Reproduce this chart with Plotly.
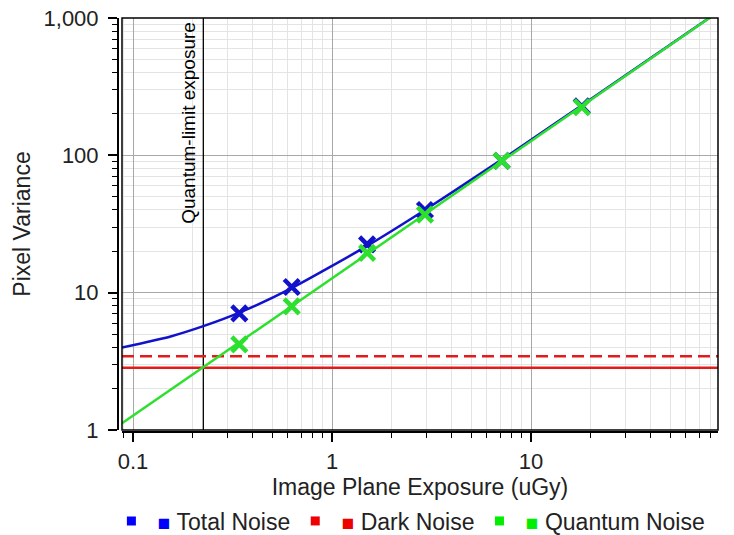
import math
import plotly.graph_objects as go

# Exposure (uGy) and pixel variance readings
marker_exposure = [0.342, 0.627, 1.5, 2.93, 7.12, 18.0]
total_marker_var = [7.07, 11.0, 22.5, 40.0, 91.0, 227.0]
quantum_marker_var = [4.2, 7.95, 19.5, 37.0, 91.0, 224.0]

total_line_exposure = [0.088, 0.153, 0.2255, 0.342, 0.627, 1.5, 2.93, 7.12, 18.0, 87.0]
total_line_var = [3.99, 4.78, 5.7, 7.15, 10.8, 21.9, 40.0, 93.0, 231.0, 1108.0]

quantum_line_exposure = [0.088, 0.342, 0.627, 1.5, 2.93, 7.12, 18.0, 87.0]
quantum_line_var = [1.12, 4.35, 7.96, 19.0, 37.2, 90.4, 229.0, 1105.0]

dark_exposure = [0.088, 87.0]
dark_solid_var = [2.84, 2.84]
dark_dashed_var = [3.45, 3.45]

quantum_limit_exposure = 0.2255

x_tickvals = [0.1, 1, 10]
x_ticktext = ["0.1", "1", "10"]
x_minorvals = [0.09, 0.2, 0.3, 0.4, 0.5, 0.6, 0.7, 0.8, 0.9,
               2, 3, 4, 5, 6, 7, 8, 9, 20, 30, 40, 50, 60, 70, 80]
y_tickvals = [1, 10, 100, 1000]
y_ticktext = ["1", "10", "100", "1,000"]
y_minorvals = [2, 3, 4, 5, 6, 7, 8, 9, 20, 30, 40, 50, 60, 70, 80, 90,
               200, 300, 400, 500, 600, 700, 800, 900]

BLUE = "#1212cc"
RED = "#e21b1b"
GREEN = "#2ee02e"
FONT = "Liberation Sans, Arial, sans-serif"

fig = go.Figure()

# quantum-limit marker line
fig.add_trace(go.Scatter(x=[quantum_limit_exposure, quantum_limit_exposure], y=[1, 1000],
                         mode="lines", line=dict(color="black", width=1.3),
                         showlegend=False, hoverinfo="skip"))

# dark noise levels
fig.add_trace(go.Scatter(x=dark_exposure, y=dark_solid_var, mode="lines",
                         line=dict(color=RED, width=2.5), showlegend=False))
fig.add_trace(go.Scatter(x=dark_exposure, y=dark_dashed_var, mode="lines",
                         line=dict(color=RED, width=2.5, dash="12px,6px"), showlegend=False))

# total noise
fig.add_trace(go.Scatter(x=total_line_exposure, y=total_line_var, mode="lines",
                         line=dict(color=BLUE, width=2.5, shape="spline", smoothing=0.6),
                         showlegend=False))
fig.add_trace(go.Scatter(x=marker_exposure, y=total_marker_var, mode="markers",
                         marker=dict(symbol="x-thin", size=15, line=dict(color=BLUE, width=4.5)),
                         showlegend=False))

# quantum noise
fig.add_trace(go.Scatter(x=quantum_line_exposure, y=quantum_line_var, mode="lines",
                         line=dict(color=GREEN, width=2.5), showlegend=False))
fig.add_trace(go.Scatter(x=marker_exposure, y=quantum_marker_var, mode="markers",
                         marker=dict(symbol="x-thin", size=15, line=dict(color=GREEN, width=4.5)),
                         showlegend=False))

# legend entries
for name, color in [("Total Noise", "#0000ff"), ("Dark Noise", "#ee0000"), ("Quantum Noise", "#00ee00")]:
    fig.add_trace(go.Scatter(
        x=[None], y=[None], mode="markers",
        marker=dict(symbol="square", size=9, color=color),
        name=f'&nbsp;<span style="color:{color};font-size:21px">■</span> {name}'))

fig.add_annotation(text="Quantum-limit exposure", textangle=-90,
                   x=math.log10(quantum_limit_exposure), xref="x",
                   y=1, yref="y domain", xanchor="right", yanchor="top",
                   xshift=-3, yshift=-2, showarrow=False,
                   font=dict(family=FONT, size=19, color="black"))

fig.add_shape(type="rect", xref="x domain", yref="y domain", x0=0, x1=1, y0=0, y1=1,
              line=dict(color="black", width=1.5), layer="above")

axis_common = dict(
    type="log", showline=True, linecolor="black", linewidth=2,
    ticks="outside", ticklen=9, tickwidth=1.5, tickcolor="black",
    showgrid=True, gridcolor="#a8a8a8", gridwidth=1, zeroline=False,
    tickfont=dict(family=FONT, size=22, color="#222"),
)

fig.update_layout(
    width=734, height=535,
    margin=dict(l=112, r=16, t=18, b=100, autoexpand=False),
    paper_bgcolor="white", plot_bgcolor="white",
    font=dict(family=FONT, color="#222"),
    xaxis=dict(
        axis_common,
        range=[math.log10(0.088), math.log10(87)],
        domain=[0.0165, 1], anchor="free", position=0.006,
        tickvals=x_tickvals, ticktext=x_ticktext,
        minor=dict(tickvals=x_minorvals, ticks="outside", ticklen=5, tickwidth=1.3,
                   tickcolor="black", showgrid=True, gridcolor="#e4e4e4", gridwidth=1),
        title=dict(text="Image Plane Exposure (uGy)", font=dict(family=FONT, size=23, color="#222"),
                   standoff=4),
    ),
    yaxis=dict(
        axis_common,
        range=[0, 3],
        domain=[0.012, 1], anchor="free", position=0.0099,
        tickvals=y_tickvals, ticktext=y_ticktext, ticklabelstandoff=5,
        minor=dict(tickvals=y_minorvals, ticks="outside", ticklen=5, tickwidth=1.3,
                   tickcolor="black", showgrid=True, gridcolor="#e4e4e4", gridwidth=1),
        title=dict(text="Pixel Variance", font=dict(family=FONT, size=23, color="#222"),
                   standoff=5),
    ),
    legend=dict(orientation="h", x=-0.001, xanchor="left", y=-0.2062, yanchor="middle",
                font=dict(family=FONT, size=23, color="#222"), itemwidth=30,
                bgcolor="rgba(0,0,0,0)"),
)

fig.write_html("out.html")
